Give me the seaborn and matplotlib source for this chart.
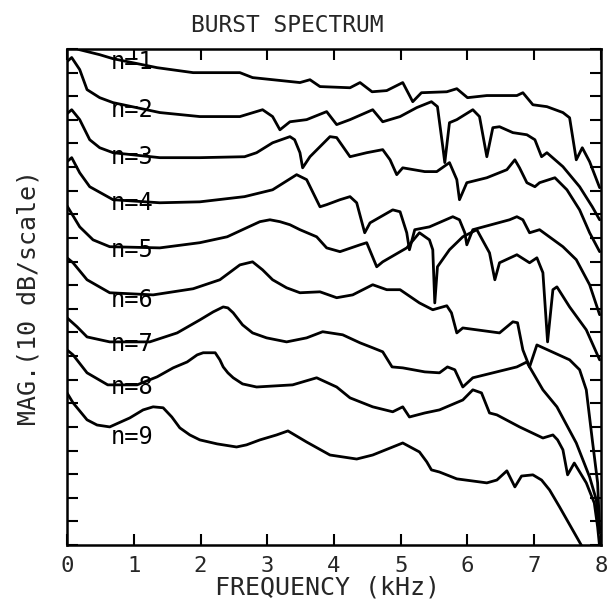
import numpy as np
import pandas as pd
import matplotlib
matplotlib.use("Agg")
import matplotlib.pyplot as plt
import seaborn as sns

# ---------------- data (frequency in kHz, magnitude in scale divisions of 10 dB) ----------------
freq_n1 = [0, 0.19, 0.49, 0.69, 1.35, 1.89, 2.29, 2.59, 2.78, 3.49, 3.64, 3.79, 4.24, 4.39, 4.57, 4.79,
           5.03, 5.18, 5.31, 5.69, 5.84, 6.00, 6.29, 6.74, 6.83, 6.98, 7.19, 7.43, 7.53, 7.63, 7.72, 7.83, 7.98]
mag_n1 = [21.19, 20.97, 20.76, 20.59, 20.21, 20.00, 20.00, 20.00, 19.79, 19.58, 19.70, 19.41, 19.36, 19.58,
          19.19, 19.24, 19.58, 18.77, 19.15, 19.19, 19.32, 18.94, 19.03, 19.03, 19.15, 18.64, 18.56, 18.31,
          18.09, 16.31, 16.82, 16.23, 15.13]

freq_n2 = [0, 0.07, 0.19, 0.30, 0.49, 0.69, 1.39, 1.99, 2.59, 2.93, 3.08, 3.19, 3.34, 3.59, 3.89, 4.04,
           4.24, 4.58, 4.73, 4.99, 5.24, 5.46, 5.55, 5.63, 5.66, 5.73, 5.84, 6.08, 6.18, 6.29, 6.38, 6.48,
           6.68, 6.89, 7.01, 7.11, 7.19, 7.43, 7.68, 7.87, 7.98]
mag_n2 = [20.47, 20.64, 20.13, 19.28, 18.94, 18.73, 18.31, 18.14, 18.14, 18.43, 18.14, 17.58, 17.92, 18.01,
          18.35, 17.80, 18.01, 18.43, 17.92, 18.14, 18.52, 18.77, 18.56, 16.86, 16.19, 17.88, 18.01, 18.43,
          18.14, 16.44, 17.67, 17.71, 17.46, 17.37, 17.16, 16.44, 16.61, 16.02, 15.17, 14.32, 13.77]

freq_n3 = [0, 0.07, 0.19, 0.34, 0.49, 0.69, 1.39, 1.99, 2.66, 2.84, 3.08, 3.34, 3.41, 3.49, 3.53, 3.64,
           3.94, 4.04, 4.24, 4.49, 4.73, 4.84, 4.94, 5.03, 5.36, 5.54, 5.73, 5.84, 5.88, 5.99, 6.29, 6.59,
           6.71, 6.78, 6.89, 7.01, 7.08, 7.31, 7.49, 7.68, 7.83, 7.98]
mag_n3 = [18.26, 18.43, 18.01, 17.16, 16.82, 16.61, 16.40, 16.40, 16.44, 16.61, 17.03, 17.29, 17.16, 16.61,
          15.97, 16.44, 17.29, 17.25, 16.44, 16.61, 16.74, 16.31, 15.68, 15.97, 15.81, 15.81, 16.19, 15.47,
          14.62, 15.34, 15.55, 15.89, 16.31, 15.97, 15.34, 15.17, 15.34, 15.55, 15.04, 14.19, 13.22, 12.42]

freq_n4 = [0, 0.07, 0.19, 0.34, 0.69, 1.39, 1.99, 2.66, 3.08, 3.44, 3.59, 3.79, 3.89, 4.09, 4.24, 4.34,
           4.46, 4.54, 4.88, 4.99, 5.09, 5.13, 5.21, 5.43, 5.78, 5.88, 5.96, 5.99, 6.08, 6.63, 6.74, 6.83,
           6.93, 7.08, 7.43, 7.63, 7.83, 7.98]
mag_n4 = [16.23, 16.40, 15.76, 15.17, 14.62, 14.49, 14.53, 14.75, 15.04, 15.68, 15.47, 14.32, 14.41, 14.62,
          14.75, 14.49, 13.22, 13.64, 14.19, 14.11, 13.22, 12.50, 13.35, 13.47, 13.90, 13.77, 13.22, 12.71,
          13.35, 13.77, 13.90, 13.77, 13.22, 13.35, 12.63, 12.08, 11.02, 9.75]

freq_n5 = [0, 0.19, 0.39, 0.64, 1.39, 1.99, 2.40, 2.69, 2.89, 3.04, 3.19, 3.34, 3.49, 3.74, 3.89, 4.09,
           4.39, 4.49, 4.64, 4.73, 5.09, 5.28, 5.43, 5.48, 5.51, 5.55, 5.73, 5.93, 6.14, 6.33, 6.41, 6.48,
           6.74, 6.93, 7.04, 7.13, 7.20, 7.28, 7.34, 7.53, 7.78, 7.98]
mag_n5 = [14.36, 13.47, 12.92, 12.63, 12.58, 12.80, 13.05, 13.43, 13.69, 13.77, 13.69, 13.56, 13.35, 13.05,
          12.58, 12.42, 12.71, 12.80, 11.78, 11.99, 12.58, 13.22, 12.92, 12.50, 10.25, 11.78, 12.50, 13.05,
          13.35, 12.37, 11.23, 11.95, 12.29, 11.95, 12.16, 11.53, 8.60, 10.81, 10.93, 10.08, 9.11, 7.84]

freq_n6 = [0, 0.09, 0.30, 0.64, 1.29, 1.89, 2.29, 2.59, 2.78, 2.93, 3.08, 3.29, 3.49, 3.79, 4.04, 4.28,
           4.58, 4.79, 4.99, 5.28, 5.48, 5.69, 5.76, 5.84, 5.93, 6.14, 6.48, 6.68, 6.75, 6.83, 6.93, 7.13,
           7.34, 7.63, 7.83, 7.93, 7.98]
mag_n6 = [12.16, 11.95, 11.23, 10.68, 10.59, 10.85, 11.23, 11.86, 11.99, 11.65, 11.23, 10.89, 10.68, 10.72,
          10.47, 10.59, 11.02, 10.81, 10.81, 10.25, 9.96, 10.13, 9.83, 8.98, 9.19, 9.11, 8.98, 9.45, 9.41,
          8.26, 7.54, 6.57, 5.85, 4.32, 2.88, 1.91, 0.51]

freq_n7 = [0, 0.15, 0.30, 0.64, 1.24, 1.65, 1.99, 2.19, 2.34, 2.41, 2.49, 2.63, 2.78, 2.99, 3.29, 3.59,
           3.83, 4.13, 4.39, 4.58, 4.73, 4.87, 5.03, 5.36, 5.58, 5.70, 5.81, 5.93, 6.08, 6.74, 6.89, 6.93,
           7.04, 7.53, 7.68, 7.78, 7.87, 7.95, 7.98]
mag_n7 = [9.62, 9.24, 8.81, 8.60, 8.60, 8.98, 9.53, 9.87, 10.08, 10.04, 9.83, 9.32, 8.98, 8.77, 8.60, 8.77,
          9.03, 8.90, 8.56, 8.35, 8.18, 7.54, 7.50, 7.33, 7.29, 7.54, 7.42, 6.69, 7.08, 7.54, 7.75, 7.54,
          8.47, 7.84, 7.42, 6.57, 4.45, 2.63, 0.64]

freq_n8 = [0, 0.09, 0.30, 0.61, 1.05, 1.35, 1.59, 1.80, 1.95, 2.04, 2.22, 2.29, 2.34, 2.41, 2.49, 2.63,
           2.84, 3.38, 3.74, 4.04, 4.24, 4.58, 4.88, 5.03, 5.13, 5.36, 5.58, 5.93, 6.08, 6.21, 6.33, 6.44,
           6.78, 7.13, 7.28, 7.35, 7.43, 7.50, 7.60, 7.78, 7.90, 7.95, 7.98]
mag_n8 = [8.26, 8.05, 7.29, 6.78, 6.78, 7.12, 7.50, 7.75, 8.05, 8.14, 8.14, 7.84, 7.54, 7.29, 7.08, 6.82,
          6.69, 6.78, 7.08, 6.69, 6.23, 5.85, 5.64, 5.85, 5.42, 5.59, 5.72, 6.14, 6.57, 6.44, 5.59, 5.51,
          5.00, 4.53, 4.66, 4.45, 4.03, 2.97, 3.47, 2.63, 1.78, 0.76, -0.08]

freq_n9 = [0, 0.09, 0.30, 0.45, 0.64, 0.94, 1.14, 1.29, 1.44, 1.57, 1.69, 1.84, 1.99, 2.25, 2.54, 2.69,
           2.89, 3.14, 3.31, 3.59, 3.94, 4.34, 4.58, 5.03, 5.28, 5.39, 5.46, 5.58, 5.84, 6.29, 6.44, 6.59,
           6.71, 6.81, 6.98, 7.11, 7.23, 7.38, 7.72]
mag_n9 = [6.44, 6.02, 5.30, 5.08, 5.00, 5.38, 5.72, 5.85, 5.81, 5.42, 4.96, 4.66, 4.45, 4.28, 4.15, 4.24,
          4.45, 4.66, 4.83, 4.36, 3.81, 3.64, 3.81, 4.32, 3.94, 3.52, 3.18, 3.09, 2.80, 2.63, 2.75, 3.14,
          2.46, 2.92, 2.97, 2.75, 2.33, 1.61, -0.08]

curve_labels = ["n=1", "n=2", "n=3", "n=4", "n=5", "n=6", "n=7", "n=8", "n=9"]
x_ticks = [0, 1, 2, 3, 4, 5, 6, 7, 8]
x_tick_labels = ["0", "1", "2", "3", "4", "5", "6", "7", "8"]

# ---------------- build table ----------------
freqs = [freq_n1, freq_n2, freq_n3, freq_n4, freq_n5, freq_n6, freq_n7, freq_n8, freq_n9]
mags = [mag_n1, mag_n2, mag_n3, mag_n4, mag_n5, mag_n6, mag_n7, mag_n8, mag_n9]
frames = []
for lab, f, m in zip(curve_labels, freqs, mags):
    frames.append(pd.DataFrame({"freq": f, "mag": m, "curve": lab}))
df = pd.concat(frames, ignore_index=True)

# ---------------- plot ----------------
sns.set_style("ticks")
plt.rcParams["font.family"] = ["DejaVu Sans Mono", "DejaVu Sans"]

fig = plt.figure(figsize=(6.16, 6.09), dpi=100)
ax = fig.add_axes([0.1088, 0.1051, 0.8668, 0.8144])

sns.lineplot(data=df, x="freq", y="mag", units="curve", estimator=None, sort=False,
             color="black", lw=2.0, ax=ax, legend=False,
             solid_joinstyle="round", solid_capstyle="round")

ax.set_xlim(0, 8)
ax.set_ylim(0, 21)
ax.set_xticks(x_ticks)
ax.set_xticklabels(x_tick_labels)
ax.set_yticks(np.arange(0, 22, 1))
ax.set_yticklabels([])
ax.tick_params(axis="both", direction="in", length=8, width=1.5, top=True, right=True,
               labelsize=16, pad=8, color="black")
for sp in ax.spines.values():
    sp.set_linewidth(1.8)
    sp.set_color("black")
    sp.set_visible(True)

# curve labels
label_x = 0.66
label_y = [20.47, 18.43, 16.44, 14.49, 12.50, 10.38, 8.52, 6.69, 4.58]
for lab, yy in zip(curve_labels, label_y):
    ax.text(label_x, yy, lab, fontsize=17, ha="left", va="center", color="black")

ax.set_xlabel("FREQUENCY (kHz)", fontsize=18, va="center")
ax.xaxis.set_label_coords(0.487, -0.085)
ax.set_ylabel("MAG.(10 dB/scale)", fontsize=18, va="center")
ax.yaxis.set_label_coords(-0.073, 0.5)
ax.set_title("BURST SPECTRUM", fontsize=16.5, x=0.412, y=1.048, va="center", pad=0)

fig.savefig("out.png", dpi=100, facecolor="white")
